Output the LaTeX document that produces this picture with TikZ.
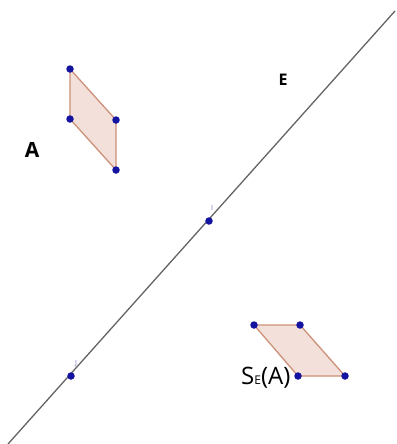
\documentclass[tikz,border=0pt]{standalone}
\usepackage{fontspec}
\setmainfont{Open Sans}
\begin{document}
\begin{tikzpicture}[x=1pt,y=-1pt,
  pt/.style={circle,fill=ptblue,inner sep=0pt,minimum size=7.5pt},
  poly/.style={draw=edgebrown,fill=fillpink,line width=1.3pt,line join=round},
  lbl/.style={inner sep=0pt,font=\fontsize{21}{21}\selectfont\bfseries},
  tiny/.style={inner sep=0pt,text=ptblue!60,font=\fontsize{7}{7}\selectfont}]
\definecolor{ptblue}{RGB}{20,20,160}
\definecolor{edgebrown}{RGB}{205,145,120}
\definecolor{fillpink}{RGB}{243,224,218}
\definecolor{linegray}{RGB}{100,100,100}
\useasboundingbox (0,0) rectangle (396,444);
% line E
\coordinate (L1) at (8,444);
\coordinate (L2) at (395,11);
\draw[linegray,line width=1.3pt] (L1) -- (L2);
% parallelogram A
\coordinate (a1) at (70,69);
\coordinate (a2) at (116,120);
\coordinate (a3) at (116,170);
\coordinate (a4) at (70,119);
\draw[poly] (a1) -- (a2) -- (a3) -- (a4) -- cycle;
% image S_E(A)
\coordinate (b1) at (254,325);
\coordinate (b2) at (300,325);
\coordinate (b3) at (345,376);
\coordinate (b4) at (298,376);
\draw[poly] (b1) -- (b2) -- (b3) -- (b4) -- cycle;
% points
\foreach \p in {a1,a2,a3,a4,b1,b2,b3,b4} \node[pt] at (\p) {};
\node[pt] (I) at (209,221) {};
\node[pt] (J) at (71,376) {};
\node[tiny] (Il) at (212,208) {I};
\node[tiny] (Jl) at (76,364) {J};
% labels
\node[lbl] (A) at (32,150) {A};
\node[lbl,font=\fontsize{16}{16}\selectfont\bfseries] (E) at (283,80) {E};
\node[anchor=west,inner sep=0pt,font=\fontsize{24}{24}\selectfont] (S) at (241,378) {S{\fontsize{12}{12}\selectfont E}(A)};
\end{tikzpicture}
\end{document}
